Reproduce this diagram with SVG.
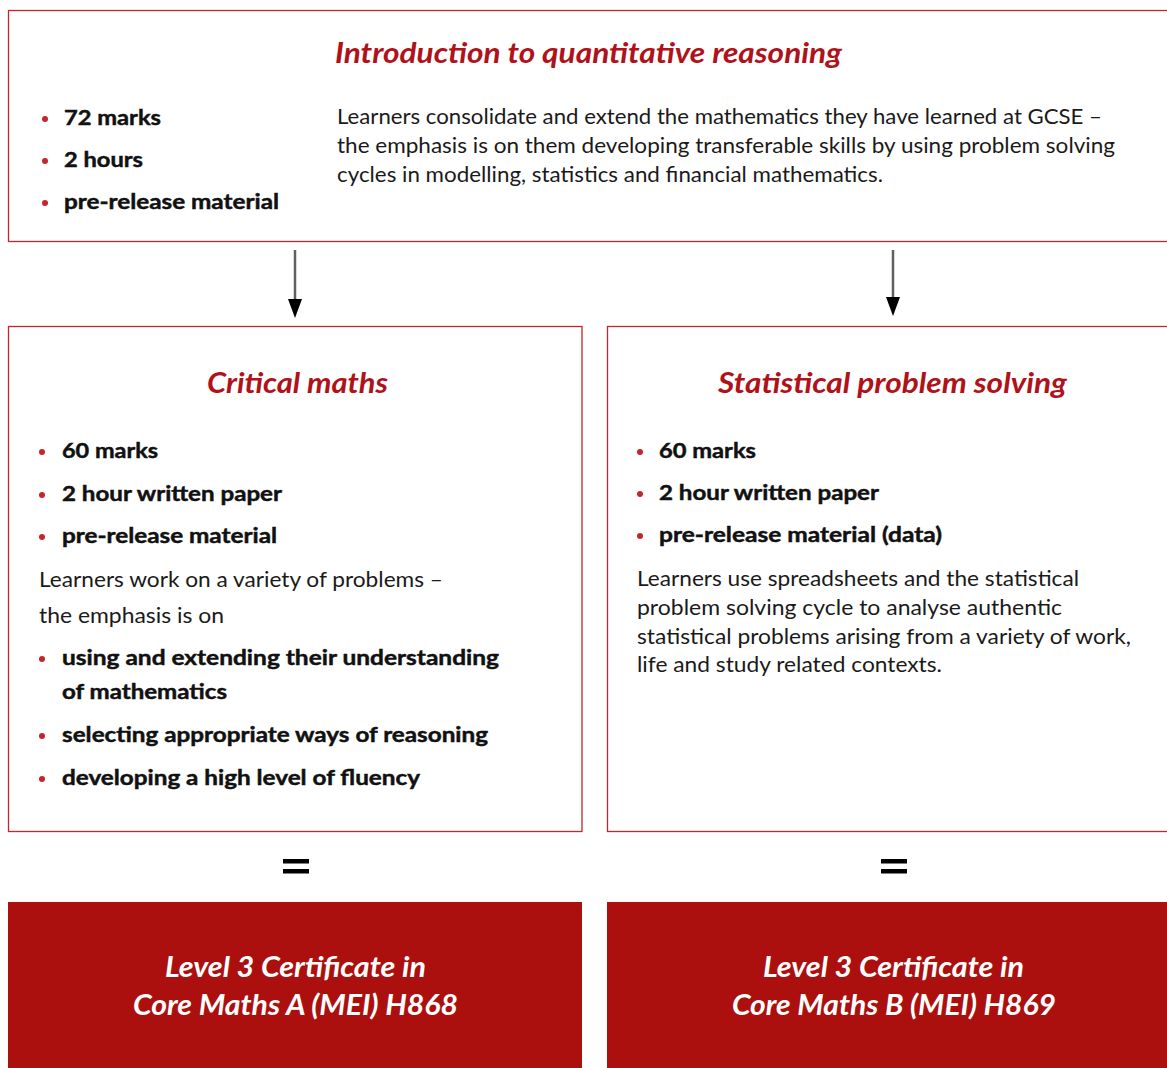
<svg xmlns="http://www.w3.org/2000/svg" width="1167" height="1068" viewBox="0 0 1167 1068">
<defs>
<style>
.box{fill:#ffffff;stroke:#c4262b;stroke-width:1.3}
.fill{fill:#ac100e}
.title{font-family:Lato,"Liberation Sans",sans-serif;font-weight:bold;font-style:italic;font-size:28px;fill:#b0121a}
.b{font-family:Lato,"Liberation Sans",sans-serif;font-weight:bold;font-size:20.5px;fill:#111111;stroke:#111111;stroke-width:0.45}
.p{font-family:Lato,"Liberation Sans",sans-serif;font-size:20.5px;fill:#1a1a1a}
.cert{font-family:Lato,"Liberation Sans",sans-serif;font-weight:bold;font-style:italic;font-size:28px;fill:#ffffff}
.dot{fill:#c4262b}
.conn{stroke:#606060;stroke-width:2.5;fill:none}
.eq{fill:#000000}
</style>
</defs>

<g id="intro">
<rect class="box" x="8.5" y="10.5" width="1165" height="231"/>
<text class="title" x="335" y="63" textLength="507" lengthAdjust="spacingAndGlyphs">Introduction to quantitative reasoning</text>
<circle class="dot" cx="45" cy="119" r="3"/>
<text class="b" x="64" y="125" textLength="97" lengthAdjust="spacingAndGlyphs">72 marks</text>
<circle class="dot" cx="45" cy="161" r="3"/>
<text class="b" x="64" y="167" textLength="79" lengthAdjust="spacingAndGlyphs">2 hours</text>
<circle class="dot" cx="45" cy="203" r="3"/>
<text class="b" x="64" y="209" textLength="215" lengthAdjust="spacingAndGlyphs">pre-release material</text>
<text class="p" x="337" y="124" textLength="765" lengthAdjust="spacingAndGlyphs">Learners consolidate and extend the mathematics they have learned at GCSE –</text>
<text class="p" x="337" y="153" textLength="778" lengthAdjust="spacingAndGlyphs">the emphasis is on them developing transferable skills by using problem solving</text>
<text class="p" x="337" y="182" textLength="546" lengthAdjust="spacingAndGlyphs">cycles in modelling, statistics and financial mathematics.</text>
</g>

<g id="connectors">
<line class="conn" x1="295" y1="250" x2="295" y2="300"/>
<path d="M288,299 L302,299 L295,318 Z" fill="#000000"/>
<line class="conn" x1="893" y1="250" x2="893" y2="298"/>
<path d="M886,297 L900,297 L893,316 Z" fill="#000000"/>
<rect class="eq" x="283" y="859" width="26" height="4.5"/>
<rect class="eq" x="283" y="869" width="26" height="4.5"/>
<rect class="eq" x="881" y="859" width="26" height="4.5"/>
<rect class="eq" x="881" y="869" width="26" height="4.5"/>
</g>

<g id="critical">
<rect class="box" x="8.5" y="326.5" width="573.5" height="505"/>
<text class="title" x="207" y="393" textLength="181" lengthAdjust="spacingAndGlyphs">Critical maths</text>
<circle class="dot" cx="42" cy="452" r="3"/>
<text class="b" x="62" y="458" textLength="96" lengthAdjust="spacingAndGlyphs">60 marks</text>
<circle class="dot" cx="42" cy="495" r="3"/>
<text class="b" x="62" y="501" textLength="220" lengthAdjust="spacingAndGlyphs">2 hour written paper</text>
<circle class="dot" cx="42" cy="537" r="3"/>
<text class="b" x="62" y="543" textLength="215" lengthAdjust="spacingAndGlyphs">pre-release material</text>
<text class="p" x="39" y="587" textLength="404" lengthAdjust="spacingAndGlyphs">Learners work on a variety of problems –</text>
<text class="p" x="39" y="623" textLength="185" lengthAdjust="spacingAndGlyphs">the emphasis is on</text>
<circle class="dot" cx="42" cy="659" r="3"/>
<text class="b" x="62" y="665" textLength="437" lengthAdjust="spacingAndGlyphs">using and extending their understanding</text>
<text class="b" x="62" y="699" textLength="165" lengthAdjust="spacingAndGlyphs">of mathematics</text>
<circle class="dot" cx="42" cy="736" r="3"/>
<text class="b" x="62" y="742" textLength="426" lengthAdjust="spacingAndGlyphs">selecting appropriate ways of reasoning</text>
<circle class="dot" cx="42" cy="779" r="3"/>
<text class="b" x="62" y="785" textLength="358" lengthAdjust="spacingAndGlyphs">developing a high level of fluency</text>
</g>

<g id="statistical">
<rect class="box" x="607.5" y="326.5" width="565" height="505"/>
<text class="title" x="718" y="393" textLength="349" lengthAdjust="spacingAndGlyphs">Statistical problem solving</text>
<circle class="dot" cx="640" cy="452" r="3"/>
<text class="b" x="659" y="458" textLength="97" lengthAdjust="spacingAndGlyphs">60 marks</text>
<circle class="dot" cx="640" cy="494" r="3"/>
<text class="b" x="659" y="500" textLength="220" lengthAdjust="spacingAndGlyphs">2 hour written paper</text>
<circle class="dot" cx="640" cy="536" r="3"/>
<text class="b" x="659" y="542" textLength="283" lengthAdjust="spacingAndGlyphs">pre-release material (data)</text>
<text class="p" x="637" y="586" textLength="442" lengthAdjust="spacingAndGlyphs">Learners use spreadsheets and the statistical</text>
<text class="p" x="637" y="615" textLength="425" lengthAdjust="spacingAndGlyphs">problem solving cycle to analyse authentic</text>
<text class="p" x="637" y="644" textLength="494" lengthAdjust="spacingAndGlyphs">statistical problems arising from a variety of work,</text>
<text class="p" x="637" y="672" textLength="305" lengthAdjust="spacingAndGlyphs">life and study related contexts.</text>
</g>

<g id="certA">
<rect class="fill" x="8" y="902" width="574" height="166"/>
<text class="cert" x="165" y="977" textLength="261" lengthAdjust="spacingAndGlyphs">Level 3 Certificate in</text>
<text class="cert" x="133" y="1015" textLength="325" lengthAdjust="spacingAndGlyphs">Core Maths A (MEI) H868</text>
</g>

<g id="certB">
<rect class="fill" x="607" y="902" width="560" height="166"/>
<text class="cert" x="763" y="977" textLength="261" lengthAdjust="spacingAndGlyphs">Level 3 Certificate in</text>
<text class="cert" x="732" y="1015" textLength="324" lengthAdjust="spacingAndGlyphs">Core Maths B (MEI) H869</text>
</g>
</svg>
